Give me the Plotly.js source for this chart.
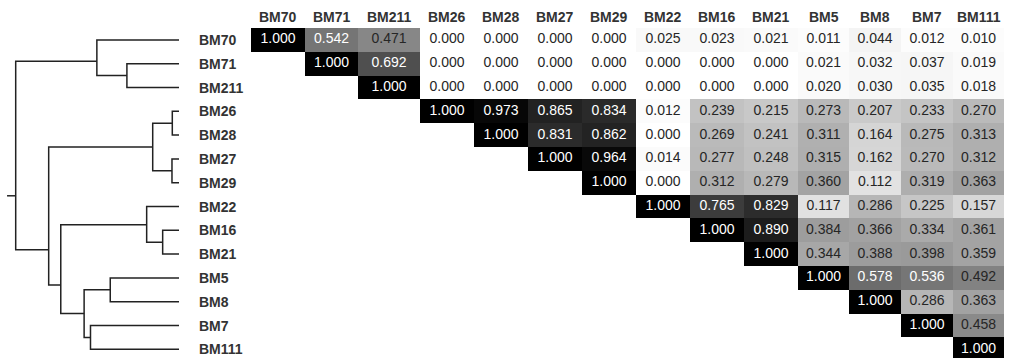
<!DOCTYPE html>
<html><head><meta charset="utf-8">
<script src="https://cdn.plot.ly/plotly-3.0.1.min.js"></script>
<style>html,body{margin:0;padding:0;background:#fff;overflow:hidden;} #chart{width:1011px;height:358px;}</style>
</head><body><div id="chart"></div>
<script>
// ---- data ----
const labels = ['BM70','BM71','BM211','BM26','BM28','BM27','BM29','BM22','BM16','BM21','BM5','BM8','BM7','BM111'];
// upper-triangle rows: values for columns i..13
const rowBM70  = [1.000,0.542,0.471,0.000,0.000,0.000,0.000,0.025,0.023,0.021,0.011,0.044,0.012,0.010];
const rowBM71  = [1.000,0.692,0.000,0.000,0.000,0.000,0.000,0.000,0.000,0.021,0.032,0.037,0.019];
const rowBM211 = [1.000,0.000,0.000,0.000,0.000,0.000,0.000,0.000,0.020,0.030,0.035,0.018];
const rowBM26  = [1.000,0.973,0.865,0.834,0.012,0.239,0.215,0.273,0.207,0.233,0.270];
const rowBM28  = [1.000,0.831,0.862,0.000,0.269,0.241,0.311,0.164,0.275,0.313];
const rowBM27  = [1.000,0.964,0.014,0.277,0.248,0.315,0.162,0.270,0.312];
const rowBM29  = [1.000,0.000,0.312,0.279,0.360,0.112,0.319,0.363];
const rowBM22  = [1.000,0.765,0.829,0.117,0.286,0.225,0.157];
const rowBM16  = [1.000,0.890,0.384,0.366,0.334,0.361];
const rowBM21  = [1.000,0.344,0.388,0.398,0.359];
const rowBM5   = [1.000,0.578,0.536,0.492];
const rowBM8   = [1.000,0.286,0.363];
const rowBM7   = [1.000,0.458];
const rowBM111 = [1.000];

// dendrogram merges (children by label or node id 'n#'), height = 1 - similarity, row = node's row position
const mergeLeft   = ['BM71','BM26','BM27','BM16','BM5','BM7','BM70','n1','BM22','n4','n8','n7','n6'];
const mergeRight  = ['BM211','BM28','BM29','BM21','BM8','BM111','n0','n2','n3','n5','n9','n10','n11'];
const mergeHeight = [0.319,0.041,0.043,0.100,0.421,0.542,0.503,0.161,0.198,0.581,0.724,0.798,1.000];
const mergeRow    = [1.5,3.5,5.5,8.5,10.5,12.5,0.9,4.5,7.77,11.5,10.3,8.82,6.55];

// ---- layout constants ----
const W = 1011, H = 358;
const colWidths = [54,53,62,54,54,54,54,54,54,54,51,52,52,51];
const gridLeft = 251, gridTop = 28, rowH = 23.8;
const leafPx = 179, unitPx = 163.3, dendroRightPx = 192, rootStub = 0.053;
const font = '"Liberation Sans", Arial, Helvetica, sans-serif';

const rows = [rowBM70,rowBM71,rowBM211,rowBM26,rowBM28,rowBM27,rowBM29,rowBM22,rowBM16,rowBM21,rowBM5,rowBM8,rowBM7,rowBM111];
const n = labels.length;
const z = [];
const tx = [], ty = [], tt = [], tc = [];
const edges = [0];
colWidths.forEach(w => edges.push(edges[edges.length-1] + w));
const centers = colWidths.map((w,i) => edges[i] + w/2);
for (let i = 0; i < n; i++) {
  const r = [];
  for (let j = 0; j < n; j++) {
    if (j < i) { r.push(null); continue; }
    const v = rows[i][j - i];
    r.push(v);
    tx.push(centers[j]); ty.push(i); tt.push(v.toFixed(3));
    tc.push(v > 0.5 ? '#ffffff' : '#262626');
  }
  z.push(r);
}
const totalW = edges[edges.length-1];

// dendrogram
const pos = {};
labels.forEach((l,i) => pos[l] = {h:0, y:i});
const dx = [], dy = [];
for (let k = 0; k < mergeLeft.length; k++) {
  const a = pos[mergeLeft[k]], b = pos[mergeRight[k]], h = mergeHeight[k];
  dx.push(a.h, h, h, b.h, null);
  dy.push(a.y, a.y, b.y, b.y, null);
  pos['n'+k] = {h:h, y:mergeRow[k]};
}
const root = pos['n'+(mergeLeft.length-1)];
dx.push(root.h, root.h + rootStub, null);
dy.push(root.y, root.y, null);

const traces = [
  {type:'heatmap', x:edges, y:labels.map((_,i)=>i), z:z, zmin:0, zmax:1,
   colorscale:[[0,'#ffffff'],[1,'#000000']], showscale:false, hoverinfo:'skip', xaxis:'x', yaxis:'y'},
  {type:'scatter', mode:'text', x:tx, y:ty, text:tt, textposition:'middle center',
   textfont:{family:font, size:14, color:tc}, cliponaxis:false, hoverinfo:'skip', xaxis:'x', yaxis:'y'},
  {type:'scatter', mode:'lines', x:dx, y:dy, line:{color:'#222', width:1.5}, connectgaps:false,
   cliponaxis:false, hoverinfo:'skip', xaxis:'x2', yaxis:'y'}
];

const annotations = [];
labels.forEach((l,i) => {
  annotations.push({xref:'x', yref:'paper', x:centers[i], y:(H-17)/H, text:l, showarrow:false,
    xanchor:'center', yanchor:'middle', font:{family:font, size:14, color:'#333', weight:'bold'}});
  annotations.push({xref:'paper', yref:'y', x:197/W, y:i, text:l, showarrow:false,
    xanchor:'left', yanchor:'middle', font:{family:font, size:14, color:'#333', weight:'bold'}});
});

const nRowsVisible = (H - gridTop) / rowH;
const layout = {
  width:W, height:H, margin:{l:0,r:0,t:0,b:0}, paper_bgcolor:'#fff', plot_bgcolor:'rgba(0,0,0,0)',
  showlegend:false,
  xaxis:{domain:[gridLeft/W, (gridLeft+totalW)/W], range:[0,totalW], visible:false, fixedrange:true, anchor:'y'},
  xaxis2:{domain:[0, dendroRightPx/W], range:[leafPx/unitPx, -(dendroRightPx-leafPx)/unitPx], visible:false, anchor:'y'},
  yaxis:{domain:[0,(H-gridTop)/H], range:[nRowsVisible-0.5, -0.5], visible:false, anchor:'x'},
  annotations:annotations
};
Plotly.newPlot('chart', traces, layout, {staticPlot:true, displayModeBar:false});
</script>
</body></html>
